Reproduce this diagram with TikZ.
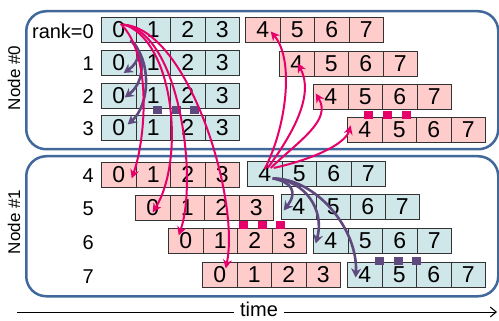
\documentclass[tikz,border=0pt]{standalone}
\usepackage{fontspec}
\setmainfont{Liberation Sans}
\usetikzlibrary{arrows.meta,calc}
\definecolor{cellblue}{HTML}{CFE7E9}
\definecolor{cellpink}{HTML}{FFCCCC}
\definecolor{boxblue}{HTML}{41689A}
\definecolor{arrpink}{HTML}{E6006A}
\definecolor{arrpurple}{HTML}{5E4A7E}
\tikzset{
 cellbox/.style={draw=black!80, line width=0.9pt, minimum width=34.5pt, minimum height=25pt, inner sep=0pt, anchor=north west, font=\fontsize{23}{23}\selectfont},
 bluecell/.style={cellbox, fill=cellblue},
 pinkcell/.style={cellbox, fill=cellpink},
 nodebox/.style={draw=boxblue, line width=2.5pt, rounded corners=20pt, anchor=north west, inner sep=0pt, minimum width=472pt},
 ranklabel/.style={anchor=east, font=\fontsize{20}{20}\selectfont, inner sep=0pt},
 nodelabel/.style={rotate=90, font=\fontsize{17}{17}\selectfont, inner sep=0pt},
 pinkarrow/.style={draw=arrpink, line width=2pt, -{Stealth[length=9pt,width=9pt]}},
 purplearrow/.style={draw=arrpurple, line width=2.6pt, -{Stealth[length=9pt,width=10pt]}},
 pinksq/.style={fill=arrpink, minimum width=9pt, minimum height=8pt, inner sep=0pt},
 purplesq/.style={fill=arrpurple, minimum width=9pt, minimum height=8pt, inner sep=0pt},
}
\newcommand{\cellrow}[5]{%
 \foreach \k in {0,...,3} {
   \pgfmathtruncatemacro{\dd}{#5+\k}
   \node[#4] (c#1-\dd) at ({#2+\k*34.5},{-#3}) {\dd};
 }
}
\begin{document}
\begin{tikzpicture}[x=1pt,y=1pt]
\useasboundingbox (0,0) rectangle (499,-321);
% node boxes
\node[nodebox, minimum height=138pt] (node0) at (25,-10) {};
\node[nodebox, minimum height=140pt] (node1) at (25,-155) {};
\node[nodelabel] (lab0) at (14,-78) {Node \#0};
\node[nodelabel] (lab1) at (14,-222) {Node \#1};
% rank labels
\node[ranklabel] (r0) at (94,-31) {rank=0};
\node[ranklabel] (r1) at (94,-64) {1};
\node[ranklabel] (r2) at (94,-97) {2};
\node[ranklabel] (r3) at (94,-129) {3};
\node[ranklabel] (r4) at (94,-176) {4};
\node[ranklabel] (r5) at (94,-209) {5};
\node[ranklabel] (r6) at (94,-243) {6};
\node[ranklabel] (r7) at (94,-277) {7};
% cells node 0
\cellrow{0}{101}{17}{bluecell}{0}
\cellrow{0}{245}{17}{pinkcell}{4}
\cellrow{1}{101}{50}{bluecell}{0}
\cellrow{1}{279}{51}{pinkcell}{4}
\cellrow{2}{101}{83}{bluecell}{0}
\cellrow{2}{313}{84}{pinkcell}{4}
\cellrow{3}{101}{115}{bluecell}{0}
\cellrow{3}{347}{117}{pinkcell}{4}
% cells node 1
\cellrow{4}{101}{162}{pinkcell}{0}
\cellrow{4}{247}{161}{bluecell}{4}
\cellrow{5}{135}{195}{pinkcell}{0}
\cellrow{5}{281}{194}{bluecell}{4}
\cellrow{6}{168}{228}{pinkcell}{0}
\cellrow{6}{313}{228}{bluecell}{4}
\cellrow{7}{202}{262}{pinkcell}{0}
\cellrow{7}{347}{262}{bluecell}{4}
% small squares
\node[purplesq] (sqa1) at (157,-110) {};
\node[purplesq] (sqa2) at (176,-110) {};
\node[purplesq] (sqa3) at (194,-110) {};
\node[pinksq] (sqb1) at (368.5,-115) {};
\node[pinksq] (sqb2) at (387.5,-115) {};
\node[pinksq] (sqb3) at (406.5,-115) {};
\node[pinksq] (sqc1) at (243,-225.5) {};
\node[pinksq] (sqc2) at (262,-225.5) {};
\node[pinksq] (sqc3) at (280.5,-225.5) {};
\node[purplesq] (sqd1) at (379.5,-260.5) {};
\node[purplesq] (sqd2) at (398,-260.5) {};
\node[purplesq] (sqd3) at (416.5,-260.5) {};
% purple arrows node 0
\draw[purplearrow] ([shift={(12,-10.5)}]c0-0.center) .. controls (142,-48) and (140,-62) .. ([shift={(5,-10)}]c1-0.center);
\draw[purplearrow] ([shift={(12,-10.5)}]c0-0.center) .. controls (146,-55) and (145,-82) .. ([shift={(6,-1.5)}]c2-0.center);
\draw[purplearrow] ([shift={(12,-10.5)}]c0-0.center) .. controls (152,-60) and (150,-105) .. ([shift={(9,3.5)}]c3-0.center);
% purple arrows node 1
\draw[purplearrow] ([shift={(8,-4.5)}]c4-4.center) .. controls (292,-182) and (298,-192) .. ([shift={(-15,-3.5)}]c5-4.center);
\draw[purplearrow] ([shift={(8,-4.5)}]c4-4.center) .. controls (305,-180) and (325,-210) .. ([shift={(-15,-2.5)}]c6-4.center);
\draw[purplearrow] ([shift={(8,-4.5)}]c4-4.center) .. controls (315,-178) and (358,-228) .. ([shift={(-9,-2.5)}]c7-4.center);
% pink arrows down
\draw[pinkarrow] ([shift={(2,6)}]c0-0.center) .. controls (152,-54) and (146,-138) .. ([shift={(13,-3.5)}]c4-0.center);
\draw[pinkarrow] ([shift={(4,6)}]c0-0.center) .. controls (175,-40) and (185,-160) .. ([shift={(0,-4.5)}]c5-0.center);
\draw[pinkarrow] ([shift={(6,5)}]c0-0.center) .. controls (180,-35) and (198,-180) .. ([shift={(-7,5.5)}]c6-0.center);
\draw[pinkarrow] ([shift={(8,5)}]c0-0.center) .. controls (190,-35) and (240,-200) .. ([shift={(6,6.5)}]c7-0.center);
% pink arrows up
\draw[pinkarrow] ([shift={(0,5)}]c4-4.center) .. controls (286,-128) and (295,-60) .. ([shift={(8,-1.5)}]c0-4.center);
\draw[pinkarrow] ([shift={(3,6)}]c4-4.center) .. controls (292,-135) and (315,-95) .. ([shift={(1,0.5)}]c1-4.center);
\draw[pinkarrow] ([shift={(6,6)}]c4-4.center) .. controls (300,-140) and (332,-120) .. ([shift={(-15,3.5)}]c2-4.center);
\draw[pinkarrow] ([shift={(9,6)}]c4-4.center) .. controls (310,-160) and (345,-145) .. ([shift={(-14,4.5)}]c3-4.center);
% time axis
\node[font=\fontsize{20}{20}\selectfont, inner sep=6pt] (time) at (259,-309) {time};
\coordinate (t0) at (17,-312);
\coordinate (t1) at (497,-312);
\draw[line width=1pt] (t0) -- (t0 -| time.west);
\draw[line width=1pt, -{Straight Barb[length=6pt,width=10pt]}] (t1 -| time.east) -- (t1);
\end{tikzpicture}
\end{document}
